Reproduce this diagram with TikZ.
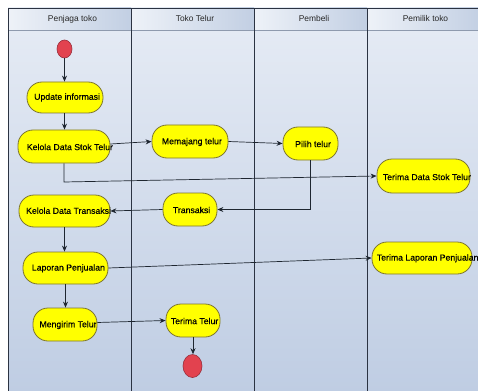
\documentclass[tikz,border=0pt]{standalone}
\usepackage{fontspec}
\setmainfont{Liberation Sans}
\newfontfamily\actfont[FakeBold=0.35]{Liberation Sans}
\usetikzlibrary{arrows.meta,shapes.geometric}

\definecolor{lanetop}{HTML}{E4EAF4}
\definecolor{lanebot}{HTML}{BFCDE3}
\definecolor{headl}{HTML}{EEF2F8}
\definecolor{headr}{HTML}{C2CFE3}
\definecolor{headrule}{HTML}{8E9AAE}
\definecolor{laneline}{HTML}{2B3342}
\definecolor{actfill}{HTML}{FFFF00}
\definecolor{actline}{HTML}{7D7530}
\definecolor{dotfill}{HTML}{E2424F}
\definecolor{dotline}{HTML}{9A2E3C}
\definecolor{flow}{HTML}{1E2630}

\tikzset{
  act/.style={draw=actline, fill=actfill, line width=0.8pt,
    rounded corners=15pt, minimum height=33pt, inner sep=0pt},
  actlbl/.style={font=\actfont\fontsize{8.7}{10}\selectfont, text=black,
    inner sep=0pt, anchor=west},
  headlbl/.style={font=\fontsize{8.4}{10}\selectfont, text=black!85, inner sep=0pt},
  dot/.style={ellipse, draw=dotline, fill=dotfill, line width=0.6pt, inner sep=0pt},
  flowline/.style={draw=flow, line width=0.7pt, -{Stealth[length=6pt,width=5pt]}},
  lane/.style={draw=laneline, line width=0.8pt}
}

\begin{document}
\begin{tikzpicture}[x=1pt, y=-1pt]
\useasboundingbox (0,0) rectangle (478,390);
\clip (0,0) rectangle (478,390);
\fill[white] (0,0) rectangle (478,390);

% swimlane bodies and headers
\foreach \xa/\xb in {8/131, 131/254, 254/367, 367/482} {
  \shade[top color=lanetop, bottom color=lanebot] (\xa,30) rectangle (\xb,392);
  \shade[left color=headl, right color=headr] (\xa,8) rectangle (\xb,30);
}
\draw[headrule, line width=0.8pt] (8,30) -- (482,30);
\draw[lane] (8,392) -- (8,8) -- (482,8);
\foreach \xx in {131,254,367} \draw[lane] (\xx,8) -- (\xx,392);

\node[headlbl] (h1) at (72.5,19) {Penjaga toko};
\node[headlbl] (h2) at (195,19) {Toko Telur};
\node[headlbl] (h3) at (314,19) {Pembeli};
\node[headlbl] (h4) at (425.5,19) {Pemilik toko};

% start and end
\node[dot, minimum width=15pt, minimum height=18pt] (st) at (64.5,49) {};
\node[dot, minimum width=19pt, minimum height=23pt] (en) at (192.5,366) {};

% activities
\node[act, minimum width=76pt, minimum height=31pt] (upd) at (65,97.5) {};
\node[act, minimum width=92pt] (ks) at (64,146.5) {};
\node[act, minimum width=76pt] (mj) at (190,141.5) {};
\node[act, minimum width=55pt] (pt) at (310.5,143.5) {};
\node[act, minimum width=93pt, minimum height=34pt] (tds) at (423.5,176) {};
\node[act, minimum width=91pt, minimum height=32pt] (kt) at (64.5,211) {};
\node[act, minimum width=54pt] (tr) at (190,209.5) {};
\node[act, minimum width=85pt, minimum height=32pt] (lp) at (65.5,268) {};
\node[act, minimum width=100pt, minimum height=32pt] (tlp) at (422,258) {};
\node[act, minimum width=64pt] (mt) at (65,324.5) {};
\node[act, minimum width=54pt] (tt) at (193,320.5) {};

% activity captions
\node[actlbl] (upd-t) at (34,97.5) {Update informasi};
\node[actlbl] (ks-t) at (26.7,147) {Kelola Data Stok Telur};
\node[actlbl] (mj-t) at (161.7,142) {Memajang telur};
\node[actlbl] (pt-t) at (295,144) {Pilih telur};
\node[actlbl] (tds-t) at (382.7,177) {Terima Data Stok Telur};
\node[actlbl] (kt-t) at (26,210.7) {Kelola Data Transaksi};
\node[actlbl] (tr-t) at (172.7,210) {Transaksi};
\node[actlbl] (lp-t) at (31.7,268.3) {Laporan Penjualan};
\node[actlbl] (tlp-t) at (376.7,258.3) {Terima Laporan Penjualan};
\node[actlbl] (mt-t) at (39.3,325) {Mengirim Telur};
\node[actlbl] (tt-t) at (170.7,321) {Terima Telur};

% flows
\coordinate (c1) at (64,182);
\draw[flowline] (st) -- (st |- upd.north);
\draw[flowline] (upd.south -| st) -- (ks.north -| st);
\draw[flowline] ([yshift=2.5pt]ks.east) -- (mj.west);
\draw[flowline] (mj.east) -- (pt.west);
\draw[flowline] (ks.south) -- (c1) -- (tds.west);
\draw[flowline] (pt.south) |- (tr.east);
\draw[flowline] (tr.west) -- (kt.east);
\draw[flowline] (kt.south) -- (kt.south |- lp.north);
\draw[flowline] (lp.east) -- (tlp.west);
\draw[flowline] (lp.south) -- (lp.south |- mt.north);
\draw[flowline] ([yshift=2pt]mt.east) -- (tt.west);
\draw[flowline] (tt.south) -- (tt.south |- en.north);
\end{tikzpicture}
\end{document}
